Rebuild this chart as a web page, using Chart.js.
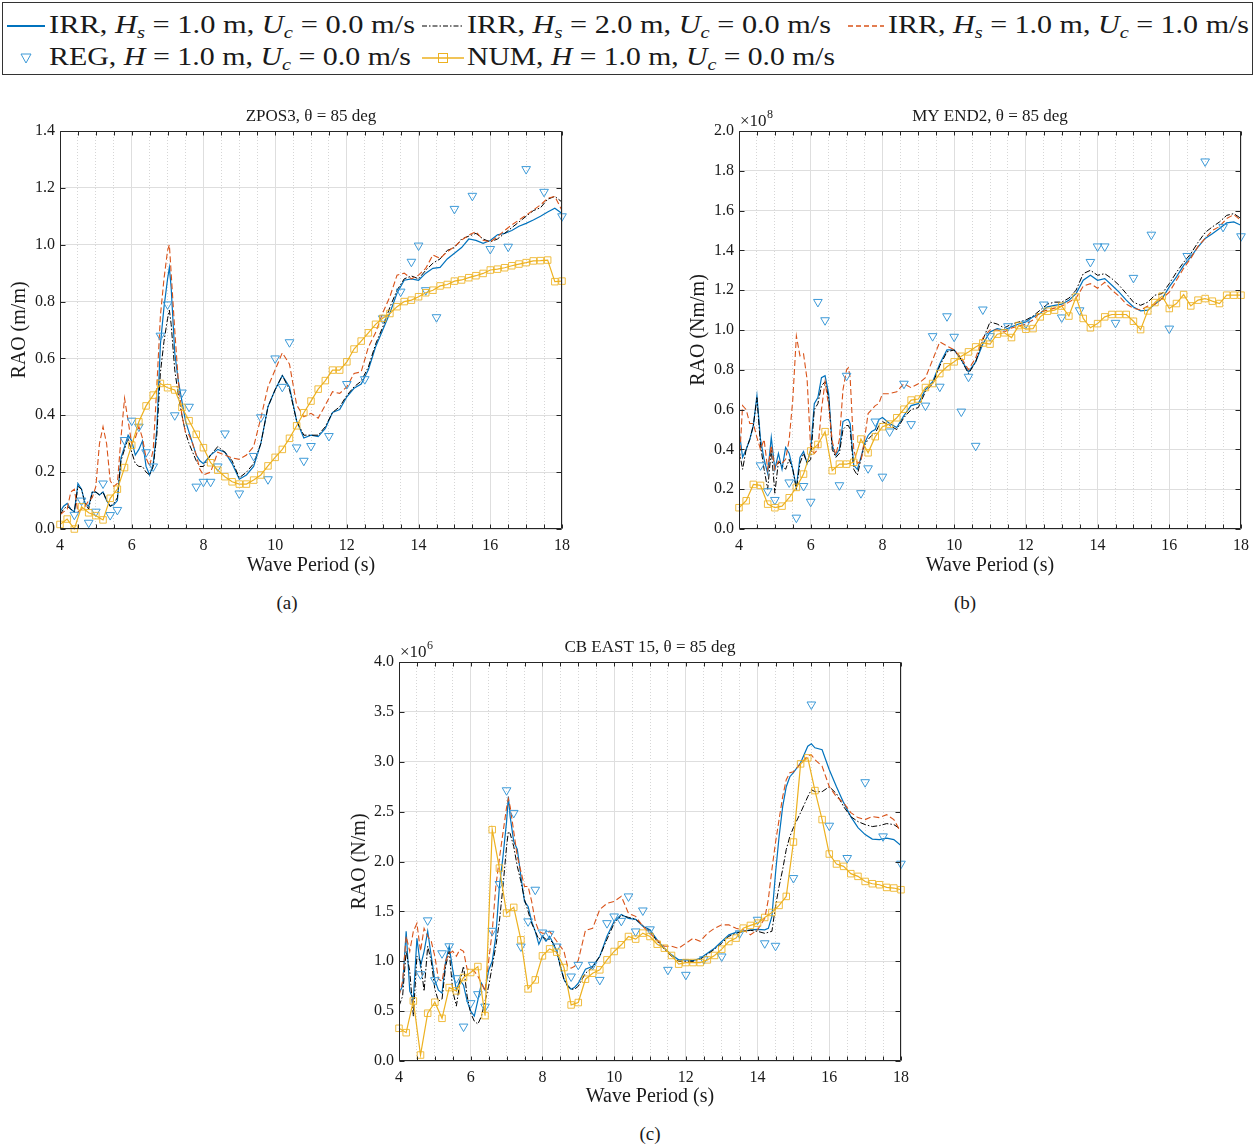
<!DOCTYPE html>
<html>
<head>
<meta charset="utf-8">
<title>RAO comparison</title>
<script src="https://cdn.jsdelivr.net/npm/chart.js@4.4.1/dist/chart.umd.min.js"></script>
<style>
  body { margin: 0; background: #fff; width: 1257px; height: 1145px; position: relative; overflow: hidden;
         font-family: 'Liberation Serif', 'Times New Roman', serif; color: #1a1a1a; }
  canvas { position: absolute; }
  .lgbox { position: absolute; left: 2px; top: 2px; width: 1251px; height: 73px; border: 1px solid #333; box-sizing: border-box; }
  .lt { position: absolute; font-size: 26px; line-height: 1; white-space: nowrap; transform-origin: 0 0; }
  .lt sub { font-size: 0.68em; font-style: italic; vertical-align: baseline; position: relative; top: 0.3em; }
  .cap { position: absolute; font-size: 19px; line-height: 1; transform: translateX(-50%); }
</style>
</head>
<body>

<div class="lgbox"></div>
<svg width="1257" height="80" style="position:absolute;left:0;top:0">
  <line x1="7" y1="26" x2="45" y2="26" stroke="#0072BD" stroke-width="2"/>
  <line x1="422" y1="26" x2="464" y2="26" stroke="#000" stroke-width="1.2" stroke-dasharray="5 2 1.5 2"/>
  <line x1="848" y1="26" x2="884" y2="26" stroke="#D95319" stroke-width="1.5" stroke-dasharray="5 3"/>
  <polygon points="21,54 31,54 26,63" fill="none" stroke="#3D9AD8" stroke-width="1"/>
  <line x1="422" y1="58" x2="464" y2="58" stroke="#EDB120" stroke-width="1.5"/>
  <rect x="438.5" y="53.5" width="9" height="9" fill="none" stroke="#EDB120" stroke-width="1"/>
</svg>
<span class="lt" data-w="366" style="left:49px;top:12px">IRR, <i>H</i><sub>s</sub> = 1.0 m, <i>U</i><sub>c</sub> = 0.0 m/s</span>
<span class="lt" data-w="364" style="left:467px;top:12px">IRR, <i>H</i><sub>s</sub> = 2.0 m, <i>U</i><sub>c</sub> = 0.0 m/s</span>
<span class="lt" data-w="361" style="left:888px;top:12px">IRR, <i>H</i><sub>s</sub> = 1.0 m, <i>U</i><sub>c</sub> = 1.0 m/s</span>
<span class="lt" data-w="362" style="left:49px;top:44px">REG, <i>H</i> = 1.0 m, <i>U</i><sub>c</sub> = 0.0 m/s</span>
<span class="lt" data-w="368" style="left:467px;top:44px">NUM, <i>H</i> = 1.0 m, <i>U</i><sub>c</sub> = 0.0 m/s</span>

<canvas id="chartA" width="580" height="490" style="left:0px;top:100px"></canvas>
<canvas id="chartB" width="576" height="490" style="left:680px;top:100px"></canvas>
<canvas id="chartC" width="579" height="490" style="left:340px;top:631px"></canvas>

<div class="cap" style="left:287px;top:593px">(a)</div>
<div class="cap" style="left:965px;top:593px">(b)</div>
<div class="cap" style="left:650px;top:1124px">(c)</div>

<script>
// ---- axes ----
const xTickValues = [4,4.5,5,5.5,6,6.5,7,7.5,8,8.5,9,9.5,10,10.5,11,11.5,12,12.5,13,13.5,14,14.5,15,15.5,16,16.5,17,17.5,18];
const xLabelValues = [4,6,8,10,12,14,16,18];
const yTicksA = [0,0.2,0.4,0.6,0.8,1.0,1.2,1.4];
const yTicksB = [0,0.2,0.4,0.6,0.8,1.0,1.2,1.4,1.6,1.8,2.0];   // x 1e8
const yTicksC = [0,0.5,1.0,1.5,2.0,2.5,3.0,3.5,4.0];          // x 1e6

// ---- wave periods (s) ----
const periodAB = [4.0,4.1,4.2,4.3,4.4,4.5,4.6,4.7,4.8,4.9,
  5.0,5.1,5.2,5.3,5.4,5.5,5.6,5.7,5.8,5.9,
  6.0,6.1,6.2,6.3,6.4,6.5,6.6,6.7,6.8,6.9,
  7.0,7.05,7.1,7.2,7.3,7.4,7.5,7.6,7.7,7.8,7.9,
  8.0,8.2,8.4,8.6,8.8,9.0,9.2,9.4,9.6,9.8,
  10.0,10.2,10.4,10.6,10.8,11.0,11.2,11.4,11.6,11.8,
  12.0,12.2,12.4,12.6,12.8,13.0,13.2,13.4,13.6,13.8,
  14.0,14.2,14.4,14.6,14.8,15.0,15.2,15.4,15.6,15.8,
  16.0,16.2,16.4,16.6,16.8,17.0,17.2,17.4,17.6,17.8,
  18.0];
const periodC = [4.0,4.1,4.2,4.3,4.4,4.5,4.6,4.7,4.8,4.9,
  5.0,5.1,5.2,5.3,5.4,5.5,5.6,5.7,5.8,5.9,
  6.0,6.1,6.2,6.3,6.4,6.5,6.6,6.7,6.8,6.9,
  7.0,7.05,7.1,7.2,7.3,7.4,7.5,7.6,7.7,7.8,7.9,
  8.0,8.1,8.2,8.3,8.4,8.5,8.6,8.7,8.8,8.9,
  9.0,9.2,9.4,9.6,9.8,
  10.0,10.2,10.4,10.6,10.8,11.0,11.2,11.4,11.6,11.8,
  12.0,12.2,12.4,12.6,12.8,13.0,13.2,13.4,13.6,13.8,
  14.0,14.2,14.3,14.4,14.5,14.6,14.7,14.8,14.9,
  15.0,15.2,15.4,15.5,15.6,15.8,
  16.0,16.2,16.4,16.6,16.8,17.0,17.2,17.4,17.6,17.8,
  18.0];
const numPeriod = [4.0,4.2,4.4,4.6,4.8,5.0,5.2,5.4,5.6,5.8,6.0,6.2,6.4,6.6,6.8,7.0,7.2,7.4,7.6,7.8,
  8.0,8.2,8.4,8.6,8.8,9.0,9.2,9.4,9.6,9.8,10.0,10.2,10.4,10.6,10.8,11.0,11.2,11.4,11.6,11.8,
  12.0,12.2,12.4,12.6,12.8,13.0,13.2,13.4,13.6,13.8,14.0,14.2,14.4,14.6,14.8,15.0,15.2,15.4,15.6,15.8,
  16.0,16.2,16.4,16.6,16.8,17.0,17.2,17.4,17.6,17.8,18.0];

// ---- (a) ZPOS3, RAO (m/m) ----
const irrHs1A = [0.06,0.08,0.09,0.07,0.06,0.16,0.14,0.09,0.08,0.13,
  0.13,0.12,0.13,0.10,0.08,0.085,0.10,0.25,0.29,0.33,
  0.31,0.26,0.28,0.31,0.22,0.19,0.23,0.35,0.65,0.78,
  0.88,0.92,0.85,0.62,0.52,0.45,0.38,0.34,0.30,0.26,0.24,
  0.23,0.26,0.28,0.27,0.23,0.175,0.19,0.22,0.30,0.43,
  0.49,0.54,0.50,0.38,0.32,0.33,0.325,0.354,0.41,0.42,
  0.465,0.495,0.51,0.56,0.64,0.70,0.76,0.83,0.875,0.88,
  0.875,0.90,0.917,0.92,0.95,0.97,0.99,1.02,1.015,1.005,
  1.015,1.035,1.04,1.05,1.065,1.075,1.087,1.10,1.115,1.128,
  1.11];
const irrHs2A = [0.05,0.07,0.08,0.07,0.06,0.15,0.14,0.09,0.07,0.13,
  0.13,0.12,0.13,0.10,0.08,0.09,0.11,0.24,0.28,0.32,
  0.27,0.23,0.22,0.22,0.20,0.19,0.22,0.33,0.55,0.66,
  0.74,0.77,0.72,0.56,0.47,0.40,0.34,0.30,0.27,0.24,0.22,
  0.22,0.26,0.29,0.27,0.24,0.18,0.20,0.23,0.30,0.43,
  0.49,0.54,0.49,0.38,0.33,0.33,0.33,0.36,0.41,0.43,
  0.47,0.50,0.52,0.57,0.65,0.71,0.78,0.84,0.88,0.89,
  0.88,0.91,0.935,0.95,0.98,0.99,1.02,1.03,1.04,1.02,
  1.01,1.02,1.04,1.06,1.08,1.10,1.12,1.13,1.16,1.17,
  1.15];
const irrUc1A = [0.05,0.06,0.07,0.13,0.14,0.06,0.07,0.08,0.10,0.11,
  0.15,0.30,0.36,0.30,0.17,0.15,0.16,0.32,0.46,0.38,
  0.30,0.32,0.36,0.32,0.25,0.22,0.28,0.50,0.75,0.88,
  0.98,1.00,0.90,0.70,0.52,0.40,0.34,0.33,0.30,0.26,0.21,
  0.19,0.20,0.27,0.26,0.25,0.245,0.26,0.29,0.39,0.50,
  0.56,0.62,0.58,0.436,0.395,0.407,0.39,0.436,0.483,0.477,
  0.50,0.547,0.553,0.64,0.69,0.76,0.817,0.893,0.90,0.88,
  0.893,0.917,0.964,0.952,0.975,0.993,1.016,1.034,1.046,1.016,
  1.01,1.028,1.05,1.07,1.087,1.104,1.122,1.14,1.163,1.17,
  1.12];
const regPeriodA = [4.4,4.6,4.8,5.0,5.2,5.4,5.6,5.8,6.0,6.2,6.4,6.6,6.8,7.0,7.2,7.4,7.6,7.8,8.0,8.2,
  8.4,8.6,9.0,9.4,9.6,9.8,10.0,10.2,10.4,10.6,10.8,11.0,11.5,12.0,12.5,13.0,13.5,13.8,14.0,14.2,
  14.5,15.0,15.5,16.0,16.5,17.0,17.5,18.0];
const regA = [0.05,0.10,0.022,0.061,0.16,0.049,0.067,0.313,0.381,0.36,0.27,0.22,0.68,0.79,0.40,0.48,0.43,0.149,0.166,0.166,
  0.22,0.336,0.125,0.257,0.393,0.175,0.60,0.50,0.657,0.287,0.24,0.292,0.327,0.51,0.527,0.741,0.835,0.94,0.997,0.84,
  0.745,1.126,1.172,0.985,0.993,1.266,1.186,1.10];
const numA = [0.016,0.035,0.0,0.078,0.057,0.047,0.032,0.108,0.14,0.216,0.295,0.377,0.433,0.471,0.512,0.497,0.489,0.428,0.381,0.333,
  0.286,0.233,0.207,0.184,0.166,0.158,0.158,0.172,0.19,0.222,0.252,0.28,0.319,0.363,0.409,0.45,0.492,0.522,0.559,0.559,
  0.588,0.633,0.661,0.69,0.72,0.741,0.758,0.782,0.80,0.805,0.817,0.831,0.84,0.855,0.86,0.872,0.876,0.884,0.891,0.899,
  0.911,0.914,0.919,0.926,0.932,0.937,0.943,0.944,0.946,0.87,0.872];

// ---- (b) MY END2, RAO (Nm/m) x 1e8 ----
const irrHs1B = [0.50,0.36,0.40,0.45,0.52,0.67,0.45,0.35,0.28,0.46,
  0.30,0.38,0.30,0.41,0.38,0.30,0.21,0.36,0.39,0.33,
  0.40,0.63,0.66,0.76,0.77,0.68,0.42,0.37,0.40,0.54,
  0.55,0.55,0.53,0.32,0.30,0.36,0.43,0.47,0.49,0.50,0.55,
  0.56,0.53,0.51,0.57,0.62,0.63,0.70,0.74,0.83,0.90,
  0.90,0.85,0.79,0.84,0.93,0.99,1.007,1.0,1.016,1.03,
  1.04,1.066,1.083,1.116,1.124,1.13,1.15,1.183,1.25,1.275,
  1.25,1.258,1.225,1.19,1.15,1.116,1.096,1.10,1.13,1.158,
  1.217,1.267,1.325,1.367,1.417,1.46,1.484,1.51,1.538,1.543,
  1.526];
const irrHs2B = [0.40,0.30,0.40,0.45,0.52,0.66,0.42,0.30,0.20,0.40,
  0.18,0.34,0.32,0.30,0.35,0.30,0.20,0.33,0.38,0.33,
  0.35,0.60,0.63,0.72,0.74,0.66,0.40,0.36,0.38,0.50,
  0.52,0.52,0.50,0.30,0.27,0.35,0.42,0.45,0.47,0.48,0.52,
  0.54,0.52,0.50,0.56,0.60,0.61,0.69,0.73,0.82,0.89,
  0.90,0.85,0.78,0.84,0.95,1.04,1.03,1.01,1.03,1.04,
  1.05,1.07,1.10,1.13,1.14,1.14,1.16,1.20,1.283,1.30,
  1.275,1.283,1.258,1.225,1.183,1.14,1.124,1.14,1.175,1.183,
  1.233,1.29,1.34,1.384,1.44,1.49,1.518,1.543,1.576,1.585,
  1.56];
const irrUc1B = [0.30,0.62,0.60,0.53,0.53,0.46,0.40,0.45,0.30,0.42,
  0.30,0.34,0.33,0.35,0.45,0.65,0.97,0.87,0.88,0.75,
  0.40,0.38,0.40,0.60,0.74,0.62,0.44,0.37,0.45,0.70,
  0.80,0.81,0.76,0.40,0.33,0.34,0.45,0.58,0.60,0.62,0.63,
  0.68,0.68,0.69,0.73,0.71,0.73,0.76,0.85,0.94,0.92,
  0.90,0.86,0.80,0.86,0.96,1.00,1.00,0.99,1.01,1.02,
  1.03,1.05,1.09,1.10,1.11,1.12,1.14,1.16,1.22,1.233,
  1.21,1.24,1.20,1.17,1.13,1.11,1.10,1.12,1.13,1.158,
  1.19,1.25,1.31,1.36,1.42,1.46,1.50,1.52,1.56,1.58,
  1.55];
const regPeriodB = [4.6,4.8,5.0,5.4,5.6,5.8,6.0,6.2,6.4,6.8,7.0,7.4,7.6,7.8,8.0,8.2,8.6,8.8,9.2,9.4,
  9.6,9.8,10.0,10.2,10.4,10.6,10.8,11.0,11.5,12.0,12.5,13.0,13.5,13.8,14.0,14.2,14.5,15.0,15.5,16.0,
  16.5,17.0,17.5,18.0];
const regB = [0.32,0.19,0.146,0.234,0.057,0.216,0.137,1.141,1.049,0.22,0.77,0.18,0.305,0.54,0.263,0.49,0.73,0.527,0.62,0.969,
  0.715,1.069,0.966,0.59,0.765,0.418,1.103,0.969,1.019,1.032,1.128,1.063,1.099,1.342,1.42,1.42,1.036,1.262,1.479,1.007,
  1.372,1.847,1.518,1.471];
const numB = [0.107,0.142,0.224,0.219,0.125,0.107,0.115,0.157,0.209,0.276,0.392,0.425,0.489,0.293,0.326,0.326,0.335,0.452,0.383,0.464,
  0.514,0.527,0.559,0.602,0.648,0.653,0.711,0.731,0.781,0.815,0.84,0.868,0.89,0.915,0.935,0.929,0.979,0.986,0.962,1.022,
  1.004,1.007,1.066,1.094,1.10,1.12,1.07,1.166,1.058,1.011,1.032,1.066,1.078,1.078,1.078,1.044,1.002,1.096,1.138,1.17,
  1.108,1.133,1.178,1.121,1.15,1.158,1.145,1.133,1.175,1.175,1.175];

// ---- (c) CB EAST 15, RAO (N/m) x 1e6 ----
const irrHs1C = [0.68,0.75,1.30,0.70,0.62,1.23,0.95,1.10,1.30,1.05,
  0.81,0.71,0.68,1.00,1.15,0.91,0.71,0.81,0.76,0.60,
  0.50,0.45,0.61,0.78,0.71,0.91,1.00,1.25,1.75,2.05,
  2.40,2.65,2.45,2.20,2.12,1.85,1.60,1.55,1.40,1.30,1.17,
  1.25,1.20,1.25,1.18,1.10,0.95,0.82,0.76,0.72,0.74,
  0.78,0.92,0.95,1.05,1.25,
  1.40,1.47,1.43,1.42,1.35,1.315,1.215,1.13,1.064,1.014,
  1.014,1.007,1.03,1.08,1.13,1.198,1.265,1.29,1.30,1.315,
  1.32,1.315,1.33,1.45,1.88,2.25,2.55,2.75,2.85,
  2.89,2.99,3.156,3.18,3.14,3.12,
  2.92,2.75,2.59,2.45,2.34,2.27,2.225,2.22,2.235,2.22,
  2.16];
const irrHs2C = [0.55,0.65,1.10,0.90,0.45,1.05,1.00,0.70,1.15,1.00,
  0.72,0.60,0.62,0.95,1.10,0.70,0.55,0.80,0.95,0.65,
  0.48,0.40,0.37,0.45,0.60,0.75,0.95,1.15,1.40,1.75,
  2.15,2.30,2.28,2.15,1.95,1.80,1.62,1.50,1.38,1.30,1.22,
  1.25,1.22,1.22,1.18,1.10,0.95,0.82,0.75,0.72,0.72,
  0.75,0.88,0.94,1.05,1.22,
  1.38,1.46,1.44,1.42,1.36,1.30,1.20,1.12,1.05,1.00,
  1.00,1.00,1.02,1.07,1.12,1.18,1.25,1.28,1.30,1.31,
  1.30,1.28,1.29,1.30,1.55,1.75,1.92,2.12,2.25,
  2.34,2.49,2.65,2.72,2.70,2.70,
  2.75,2.68,2.55,2.45,2.40,2.37,2.35,2.36,2.38,2.37,
  2.32];
const irrUc1C = [0.65,0.80,1.25,1.10,1.30,1.38,1.10,1.33,1.25,1.20,
  1.05,0.82,0.80,1.00,1.08,1.10,1.05,1.12,1.10,0.92,
  0.92,0.90,0.85,0.78,0.70,1.00,1.30,1.75,2.03,2.29,
  2.54,2.63,2.55,2.30,2.05,1.90,1.75,1.75,1.60,1.40,1.30,
  1.28,1.28,1.30,1.25,1.20,1.15,1.10,0.95,0.93,0.95,
  1.01,1.31,1.33,1.52,1.58,
  1.60,1.65,1.48,1.45,1.35,1.28,1.21,1.15,1.15,1.13,
  1.18,1.23,1.20,1.28,1.33,1.365,1.365,1.33,1.315,1.265,
  1.315,1.43,1.62,1.92,2.19,2.42,2.65,2.82,2.89,
  2.90,2.98,3.06,3.07,3.02,2.955,
  2.75,2.65,2.59,2.49,2.44,2.42,2.45,2.44,2.47,2.42,
  2.29];
const regPeriodC = [4.6,4.8,5.0,5.2,5.4,5.6,5.8,6.0,6.2,6.4,6.6,6.8,7.0,7.2,7.4,7.6,7.8,8.0,8.2,8.4,
  8.8,9.0,9.4,9.6,9.8,10.0,10.2,10.4,10.6,10.8,11.0,11.5,12.0,12.5,13.0,13.5,14.0,14.2,14.5,15.0,
  15.5,16.0,16.5,17.0,17.5,18.0];
const regC = [0.87,1.41,0.81,1.08,1.15,0.83,0.345,0.58,0.67,0.545,1.305,1.774,2.714,2.487,1.148,1.40,1.717,1.288,1.275,1.148,
  0.847,0.964,0.964,0.813,1.382,1.449,1.405,1.65,1.299,1.509,1.32,0.914,0.864,1.02,1.048,1.28,1.416,1.18,1.155,1.834,
  3.574,2.359,2.035,2.795,2.252,1.978];
const numC = [0.328,0.284,0.602,0.06,0.479,0.589,0.428,0.736,0.703,0.837,0.887,0.947,0.455,2.319,1.934,1.483,1.54,1.215,0.723,0.813,
  1.054,1.124,1.091,0.937,0.562,0.586,0.82,0.88,0.914,1.014,1.098,1.165,1.248,1.222,1.282,1.248,1.171,1.131,1.058,0.971,
  0.987,0.987,0.987,1.014,1.058,1.121,1.198,1.232,1.332,1.359,1.382,1.439,1.489,1.56,1.65,2.195,2.979,3.039,2.711,2.42,
  2.075,1.975,1.951,1.878,1.851,1.80,1.777,1.767,1.74,1.734,1.717];

// ---- styles ----
const SERIF = "'Liberation Serif', 'Times New Roman', serif";
const TEXT = '#1a1a1a';
const AXIS = '#262626';
const GRID = '#dedede';
const MINOR_GRID = 'rgba(0,0,0,0.16)';
const BLUE = '#0072BD';
const ORANGE = '#D95319';
const YELLOW = '#EDB120';
const REG_BLUE = '#3D9AD8';

Chart.defaults.font.family = SERIF;
Chart.defaults.color = TEXT;

function pairs(xs, ys) {
  if (xs.length !== ys.length) throw new Error('length mismatch ' + xs.length + ' vs ' + ys.length);
  return xs.map((x, i) => ({ x: x, y: ys[i] }));
}

// box round the axes, inward ticks, exponent label
const framePlugin = {
  id: 'frame',
  afterDraw(chart, args, opts) {
    const { ctx, chartArea: a, scales: { x, y } } = chart;
    const L = Math.round(a.left) + 0.5, R = Math.round(a.right) - 0.5;
    const T = Math.round(a.top) + 0.5, B = Math.round(a.bottom) - 0.5;
    ctx.save();
    ctx.strokeStyle = AXIS;
    ctx.lineWidth = 1;
    ctx.beginPath();
    xTickValues.forEach(v => {
      const px = Math.round(x.getPixelForValue(v)) + 0.5;
      ctx.moveTo(px, B); ctx.lineTo(px, B - 4);
      ctx.moveTo(px, T); ctx.lineTo(px, T + 4);
    });
    y.ticks.forEach(t => {
      const py = Math.round(y.getPixelForValue(t.value)) + 0.5;
      ctx.moveTo(L, py); ctx.lineTo(L + 5, py);
      ctx.moveTo(R, py); ctx.lineTo(R - 5, py);
    });
    ctx.rect(L, T, R - L, B - T);
    ctx.stroke();
    if (opts.exponent) {
      ctx.fillStyle = TEXT;
      ctx.textAlign = 'left';
      ctx.textBaseline = 'alphabetic';
      ctx.font = '17px ' + SERIF;
      const x0 = a.left + 1, y0 = a.top - 5;
      ctx.fillText('\u00d710', x0, y0);
      const w = ctx.measureText('\u00d710').width;
      ctx.font = '12px ' + SERIF;
      ctx.fillText(String(opts.exponent), x0 + w + 0.5, y0 - 8);
    }
    ctx.restore();
  }
};

function makeChart(id, p) {
  const isMajor = v => xLabelValues.includes(v);
  return new Chart(document.getElementById(id), {
    type: 'line',
    data: {
      datasets: [
        { label: 'NUM', data: pairs(numPeriod, p.num), order: 0,
          borderColor: YELLOW, borderWidth: 1.2, pointStyle: 'rect', pointRadius: 4.6,
          pointBorderColor: 'rgba(237,177,32,0.85)', pointBackgroundColor: 'rgba(0,0,0,0)', pointBorderWidth: 1, clip: false },
        { label: 'REG', data: pairs(p.regT, p.reg), order: 1, showLine: false,
          pointStyle: 'triangle', pointRotation: 180, pointRadius: 5,
          pointBorderColor: REG_BLUE, pointBackgroundColor: 'rgba(0,0,0,0)', pointBorderWidth: 1, clip: false },
        { label: 'IRR Uc=1', data: pairs(p.period, p.uc1), order: 2,
          borderColor: ORANGE, borderWidth: 1.1, borderDash: [6, 3], pointRadius: 0 },
        { label: 'IRR Hs=2', data: pairs(p.period, p.hs2), order: 3,
          borderColor: '#000', borderWidth: 1, borderDash: [6, 2, 1.5, 2], pointRadius: 0 },
        { label: 'IRR Hs=1', data: pairs(p.period, p.hs1), order: 4,
          borderColor: BLUE, borderWidth: 1.2, pointRadius: 0 }
      ]
    },
    options: {
      responsive: false,
      animation: false,
      devicePixelRatio: 1,
      events: [],
      layout: { padding: { left: 0, right: p.padRight, top: 0, bottom: 0 } },
      plugins: {
        legend: { display: false },
        tooltip: { enabled: false },
        title: { display: true, text: p.title, fullSize: false, color: TEXT,
                 font: { family: SERIF, size: 17, weight: 'normal' }, padding: { top: 6.8, bottom: 3.8 } },
        frame: { exponent: p.exponent }
      },
      scales: {
        x: {
          type: 'linear', min: 4, max: 18,
          afterBuildTicks: s => { s.ticks = xTickValues.map(v => ({ value: v })); },
          afterFit: s => { s.height = p.xHeight; },
          ticks: { autoSkip: false, maxRotation: 0, minRotation: 0, padding: 7, color: TEXT,
                   font: { family: SERIF, size: 16 },
                   callback: v => isMajor(v) ? String(v) : '' },
          grid: { drawTicks: false, lineWidth: 1,
                  color: c => (c.tick && isMajor(c.tick.value)) ? GRID : MINOR_GRID },
          border: { display: false, dash: c => (c.tick && !isMajor(c.tick.value)) ? [1, 2] : [] },
          title: { display: true, text: 'Wave Period (s)', color: TEXT,
                   font: { family: SERIF, size: 20 }, padding: { top: 0, bottom: 12 } }
        },
        y: {
          min: 0, max: p.yTicks[p.yTicks.length - 1],
          afterBuildTicks: s => { s.ticks = p.yTicks.map(v => ({ value: v })); },
          afterFit: s => { s.width = p.yWidth; },
          ticks: { padding: 5, color: TEXT, font: { family: SERIF, size: 16 },
                   callback: v => Number(v).toFixed(1) },
          grid: { drawTicks: false, color: GRID, lineWidth: 1 },
          border: { display: false },
          title: { display: true, text: p.yTitle, color: TEXT,
                   font: { family: SERIF, size: 20 }, padding: { top: p.yTitlePad, bottom: 0 } }
        }
      }
    },
    plugins: [framePlugin]
  });
}

makeChart('chartA', {
  title: 'ZPOS3, \u03b8 = 85 deg', yTitle: 'RAO (m/m)', yTicks: yTicksA,
  period: periodAB, hs1: irrHs1A, hs2: irrHs2A, uc1: irrUc1A,
  regT: regPeriodA, reg: regA, num: numA,
  yWidth: 60, yTitlePad: 7.5, xHeight: 61, padRight: 18, exponent: null
});
makeChart('chartB', {
  title: 'MY END2, \u03b8 = 85 deg', yTitle: 'RAO (Nm/m)', yTicks: yTicksB,
  period: periodAB, hs1: irrHs1B, hs2: irrHs2B, uc1: irrUc1B,
  regT: regPeriodB, reg: regB, num: numB,
  yWidth: 59, yTitlePad: 6.5, xHeight: 61, padRight: 15, exponent: 8
});
makeChart('chartC', {
  title: 'CB EAST 15, \u03b8 = 85 deg', yTitle: 'RAO (N/m)', yTicks: yTicksC,
  period: periodC, hs1: irrHs1C, hs2: irrHs2C, uc1: irrUc1C,
  regT: regPeriodC, reg: regC, num: numC,
  yWidth: 59, yTitlePad: 7.5, xHeight: 60, padRight: 18, exponent: 6
});

// stretch legend texts to the widths they take in the figure
document.querySelectorAll('.lt').forEach(el => {
  const target = Number(el.dataset.w);
  const w = el.getBoundingClientRect().width;
  if (w > 0) el.style.transform = 'scaleX(' + (target / w).toFixed(4) + ')';
});
</script>
</body>
</html>
